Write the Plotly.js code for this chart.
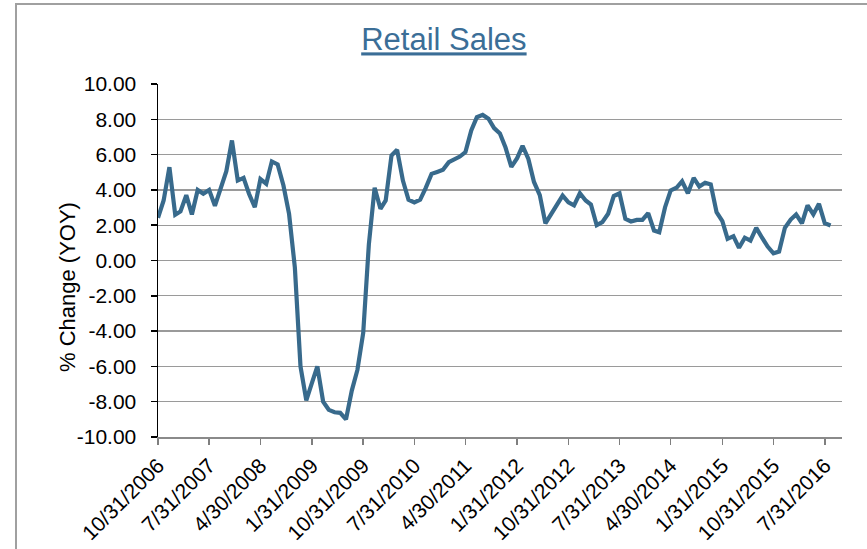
<!DOCTYPE html>
<html>
<head>
<meta charset="utf-8">
<script src="https://cdn.plot.ly/plotly-3.0.1.min.js"></script>
<style>
  html, body { margin: 0; padding: 0; background: #fff; overflow: hidden; }
  #wrap { position: relative; width: 867px; height: 549px; }
  #frame { position: absolute; left: 15px; top: 3px; width: 900px; height: 600px;
           border-left: 2px solid #a0a0a0; border-top: 2px solid #a0a0a0; pointer-events: none; }
  #chart { position: absolute; left: 0; top: 0; width: 867px; height: 549px; }
</style>
</head>
<body>
<div id="wrap">
  <div id="chart"></div>
  <div id="frame"></div>
</div>
<script>
// First data month (month-end dates, monthly series)
const startYear = 2006;
const startMonth = 10; // October

// Retail sales, % change YOY
const retailYoY = [
  2.42, 3.40, 5.29, 2.59, 2.78, 3.70, 2.61, 4.00, 3.78, 4.00,
  3.10, 4.15, 5.06, 6.80, 4.53, 4.68, 3.78, 3.02, 4.61, 4.35,
  5.61, 5.44, 4.25, 2.64, -0.40, -6.00, -7.93, -6.90, -6.00, -8.00,
  -8.46, -8.60, -8.63, -9.00, -7.37, -6.20, -4.10, 0.90, 4.12, 2.93,
  3.40, 5.95, 6.27, 4.53, 3.44, 3.29, 3.44, 4.12, 4.91, 5.02,
  5.14, 5.57, 5.70, 5.89, 6.14, 7.37, 8.12, 8.25, 8.03, 7.50,
  7.20, 6.40, 5.30, 5.80, 6.50, 5.75, 4.45, 3.70, 2.10, 2.60,
  3.15, 3.68, 3.30, 3.12, 3.81, 3.40, 3.17, 2.00, 2.17, 2.65,
  3.65, 3.81, 2.36, 2.21, 2.30, 2.30, 2.68, 1.70, 1.60, 3.02,
  3.97, 4.12, 4.49, 3.81, 4.68, 4.19, 4.40, 4.31, 2.74, 2.23,
  1.23, 1.38, 0.72, 1.29, 1.13, 1.85, 1.29, 0.79, 0.41, 0.51,
  1.85, 2.32, 2.61, 2.11, 3.12, 2.61, 3.21, 2.11, 1.98
];

// X tick labels as shown on the chart
const tickLabels = [
  "10/31/2006", "7/31/2007", "4/30/2008", "1/31/2009", "10/31/2009",
  "7/31/2010", "4/30/2011", "1/31/2012", "10/31/2012", "7/31/2013",
  "4/30/2014", "1/31/2015", "10/31/2015", "7/31/2016"
];
const xRangeLabels = ["10/31/2006", "10/31/2016"];

// Y ticks
const yTicks = [10, 8, 6, 4, 2, 0, -2, -4, -6, -8, -10];

function pad(n) { return (n < 10 ? "0" : "") + n; }
function monthEnd(y, m) { // m is 1-based
  const d = new Date(Date.UTC(y, m, 0));
  return d.getUTCFullYear() + "-" + pad(d.getUTCMonth() + 1) + "-" + pad(d.getUTCDate());
}
function labelToIso(s) {
  const p = s.split("/");
  return p[2] + "-" + pad(+p[0]) + "-" + pad(+p[1]);
}

const dates = retailYoY.map((_, i) => {
  const total = (startMonth - 1) + i;
  return monthEnd(startYear + Math.floor(total / 12), (total % 12) + 1);
});

const FONT = '"Liberation Sans", Arial, sans-serif';

const trace = {
  type: "scatter",
  mode: "lines",
  x: dates,
  y: retailYoY,
  line: { color: "#386a8c", width: 4.2 },
  hoverinfo: "x+y"
};

const layout = {
  width: 867,
  height: 549,
  margin: { l: 158, r: 25, t: 84, b: 112 },
  paper_bgcolor: "#ffffff",
  plot_bgcolor: "#ffffff",
  showlegend: false,
  font: { family: FONT, color: "#000000" },
  title: {
    text: "<u>Retail Sales</u>",
    font: { family: FONT, size: 31, color: "#3b6e97" },
    x: 0.512, xref: "container", xanchor: "center",
    y: 0.928, yref: "container", yanchor: "middle"
  },
  xaxis: {
    type: "date",
    range: xRangeLabels.map(labelToIso),
    tickmode: "array",
    tickvals: tickLabels.map(labelToIso),
    ticktext: tickLabels,
    tickangle: -45,
    tickfont: { family: FONT, size: 21, color: "#000000" },
    ticks: "outside",
    ticklen: 6,
    tickwidth: 1.5,
    tickcolor: "#7f7f7f",
    showline: true,
    linecolor: "#8a8a8a",
    linewidth: 2,
    showgrid: false,
    zeroline: false,
    fixedrange: true
  },
  yaxis: {
    range: [-10, 10],
    tickmode: "array",
    tickvals: yTicks,
    ticktext: yTicks.map(v => v.toFixed(2)),
    tickfont: { family: FONT, size: 21, color: "#000000" },
    ticks: "outside",
    ticklen: 6,
    tickwidth: 1.5,
    tickcolor: "#000000",
    ticklabelstandoff: 10,
    showline: true,
    linecolor: "#000000",
    linewidth: 1.5,
    showgrid: true,
    gridcolor: "#9a9a9a",
    gridwidth: 1.3,
    zeroline: false,
    fixedrange: true
  },
  annotations: [{
    text: "% Change (YOY)",
    xref: "paper", yref: "paper",
    x: -0.132, y: 0.424,
    xanchor: "center", yanchor: "middle",
    textangle: -90,
    showarrow: false,
    font: { family: FONT, size: 22, color: "#000000" }
  }]
};

Plotly.newPlot("chart", [trace], layout, { staticPlot: true, displayModeBar: false });
</script>
</body>
</html>
